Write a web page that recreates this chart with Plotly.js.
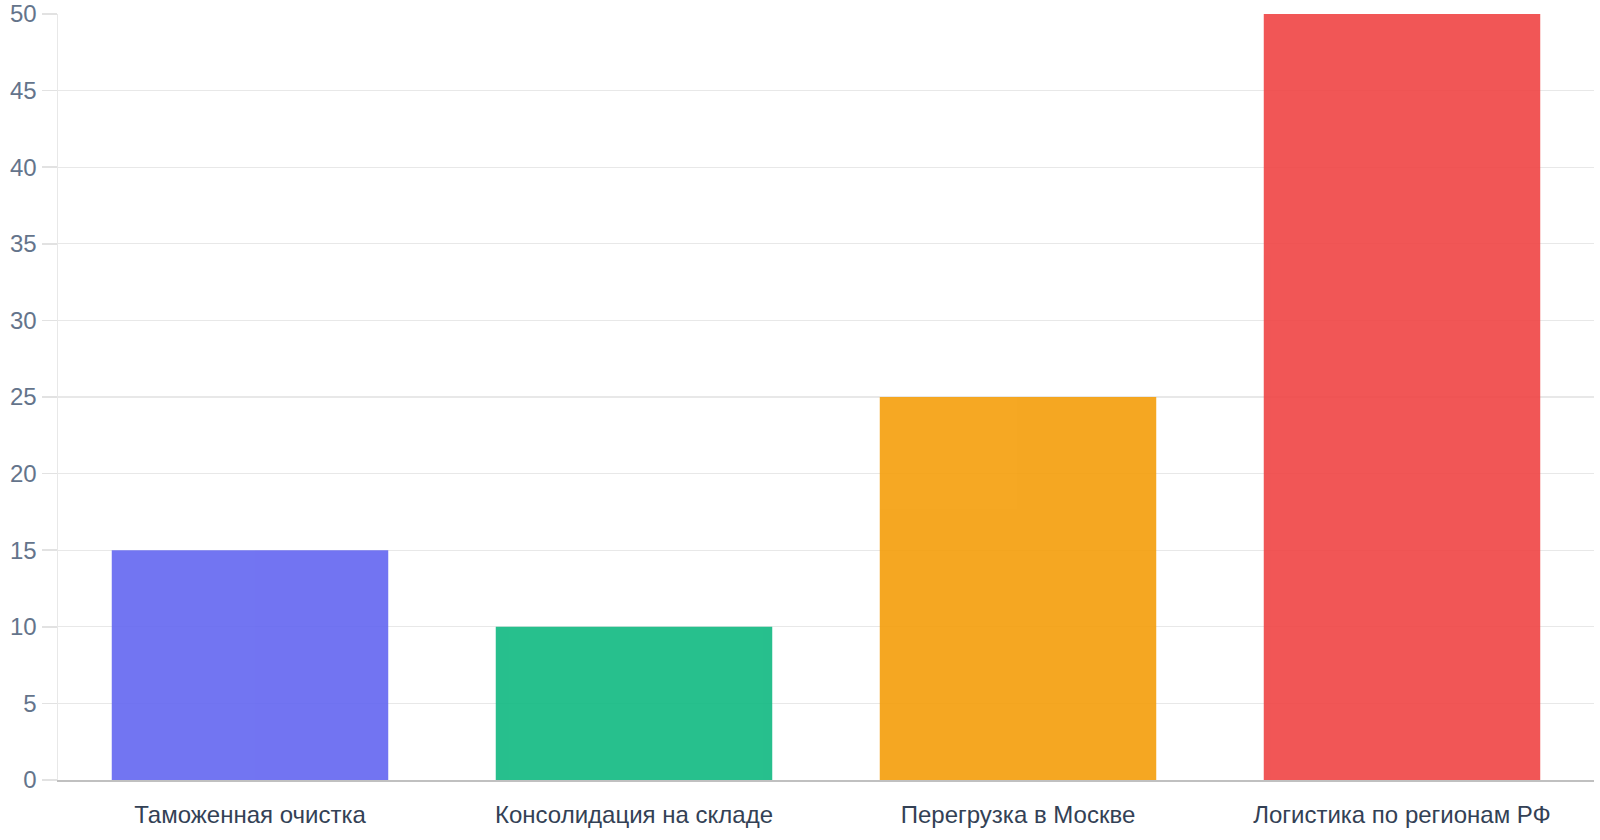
<!DOCTYPE html>
<html>
<head>
<meta charset="utf-8">
<script src="https://cdn.plot.ly/plotly-3.0.1.min.js"></script>
<style>html,body{margin:0;padding:0;background:#fff;}#chart{width:1600px;height:840px;}</style>
</head>
<body>
<div id="chart"></div>
<script>
const categories = ["Таможенная очистка", "Консолидация на складе", "Перегрузка в Москве", "Логистика по регионам РФ"];
const values = [15, 10, 25, 50];
const barColors = ["#6366f1", "#10b981", "#f59e0b", "#ef4444"];
const yTicks = [0, 5, 10, 15, 20, 25, 30, 35, 40, 45, 50];

const trace = {
  type: "bar",
  x: categories,
  y: values,
  marker: {color: barColors, line: {width: 0}},
  opacity: 0.9,
  width: 0.72,
  hoverinfo: "x+y"
};

const layout = {
  width: 1600, height: 840,
  margin: {l: 58, r: 6, t: 14, b: 60},
  paper_bgcolor: "#ffffff",
  plot_bgcolor: "#ffffff",
  showlegend: false,
  font: {family: "Liberation Sans, Arial, sans-serif", size: 24},
  xaxis: {
    type: "category",
    tickfont: {color: "#334155", size: 24},
    showgrid: false,
    showline: true,
    linecolor: "#c0c0c0",
    linewidth: 1.5,
    ticks: "outside",
    ticklen: 13,
    tickcolor: "rgba(0,0,0,0)"
  },
  yaxis: {
    range: [0, 50],
    tickvals: yTicks,
    ticktext: yTicks.map(String),
    tickfont: {color: "#64748b", size: 24},
    showgrid: true,
    gridcolor: "#e8e8e8",
    gridwidth: 1.2,
    zeroline: false,
    showline: true,
    linecolor: "#e8e8e8",
    linewidth: 1.5,
    ticks: "outside",
    ticklen: 15,
    tickcolor: "#e2e2e2",
    tickwidth: 1.5
  }
};

Plotly.newPlot("chart", [trace], layout, {displayModeBar: false, staticPlot: true});
</script>
</body>
</html>
